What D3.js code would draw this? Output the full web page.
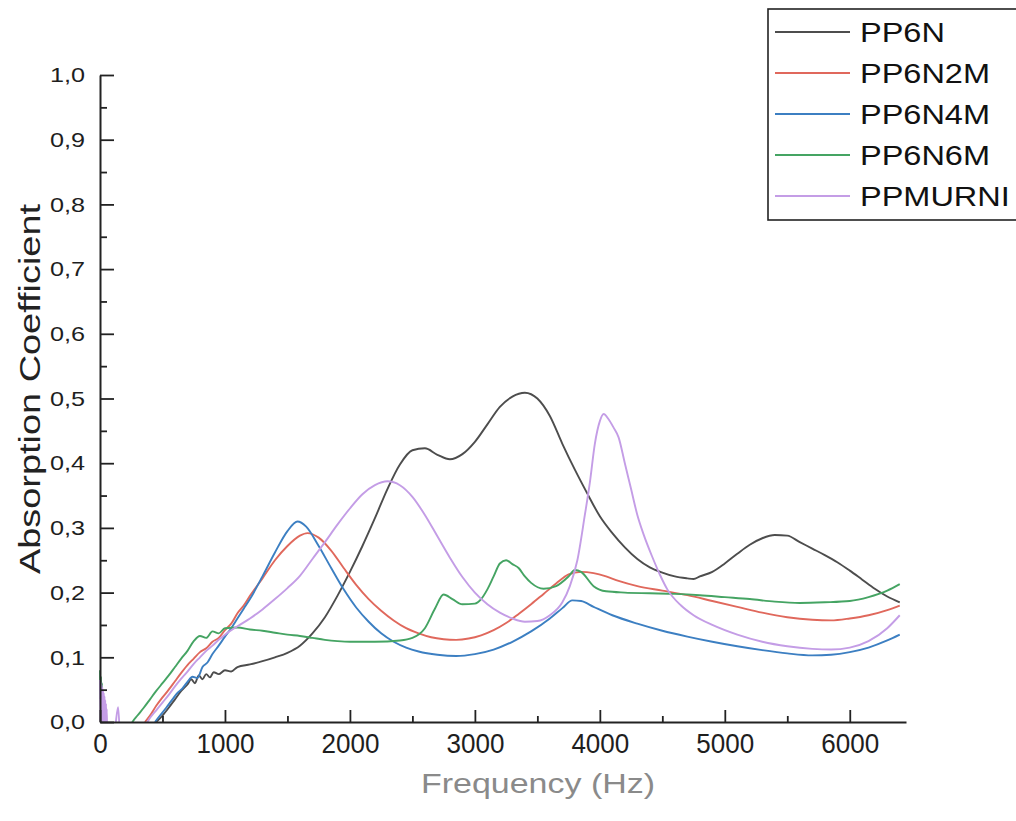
<!DOCTYPE html>
<html><head><meta charset="utf-8">
<script src="https://cdn.jsdelivr.net/npm/d3@7"></script>
<style>
html,body{margin:0;padding:0;background:#fff;}
svg{display:block;font-family:"Liberation Sans",Arial,sans-serif;}
</style></head>
<body>
<svg id="chart" width="1016" height="821"></svg>
<script>
// ---- data (frequency Hz, absorption coefficient) ----
const seriesNames = ["PP6N","PP6N2M","PP6N4M","PP6N6M","PPMURNI"];
const seriesColors = ["#4d4d4d","#e0685c","#3c7fc2","#45a463","#c49de6"];
const xTicks = [0,1000,2000,3000,4000,5000,6000];
const yTicks = [0,0.1,0.2,0.3,0.4,0.5,0.6,0.7,0.8,0.9,1.0];

const pp6n = [[450,0],[500,0.01],[550,0.022],[600,0.035],[650,0.048],[700,0.058],[730,0.066],[760,0.06],[790,0.072],[820,0.066],[850,0.074],[880,0.069],[910,0.077],[950,0.074],[1000,0.08],[1050,0.078],[1100,0.085],[1200,0.089],[1300,0.094],[1400,0.1],[1500,0.107],[1600,0.118],[1700,0.137],[1800,0.162],[1900,0.195],[2000,0.232],[2100,0.272],[2200,0.315],[2300,0.36],[2400,0.398],[2500,0.42],[2600,0.423],[2700,0.413],[2800,0.406],[2900,0.414],[3000,0.433],[3100,0.46],[3200,0.487],[3300,0.503],[3400,0.509],[3500,0.5],[3600,0.473],[3700,0.43],[3800,0.39],[3900,0.353],[4000,0.318],[4100,0.292],[4200,0.27],[4300,0.252],[4400,0.239],[4500,0.231],[4600,0.225],[4700,0.222],[4750,0.221],[4800,0.225],[4900,0.232],[5000,0.245],[5100,0.26],[5200,0.274],[5300,0.284],[5400,0.289],[5500,0.288],[5600,0.278],[5700,0.268],[5800,0.258],[5900,0.247],[6000,0.234],[6100,0.22],[6200,0.206],[6300,0.194],[6400,0.185]];

const pp6n2m = [[360,0],[400,0.01],[450,0.025],[500,0.038],[550,0.05],[600,0.063],[650,0.076],[700,0.088],[750,0.098],[800,0.108],[850,0.114],[900,0.124],[950,0.13],[1000,0.142],[1050,0.152],[1100,0.168],[1150,0.18],[1200,0.195],[1300,0.222],[1400,0.25],[1500,0.272],[1600,0.288],[1660,0.292],[1750,0.285],[1850,0.265],[1950,0.238],[2050,0.212],[2150,0.19],[2250,0.172],[2350,0.157],[2450,0.145],[2550,0.137],[2650,0.131],[2750,0.128],[2850,0.127],[2950,0.129],[3050,0.134],[3150,0.142],[3250,0.153],[3350,0.167],[3450,0.182],[3550,0.198],[3650,0.214],[3750,0.228],[3850,0.232],[3950,0.23],[4050,0.225],[4150,0.218],[4300,0.21],[4500,0.203],[4700,0.196],[4900,0.187],[5100,0.178],[5300,0.169],[5500,0.162],[5700,0.158],[5850,0.157],[6000,0.16],[6150,0.165],[6300,0.173],[6400,0.18]];

const pp6n4m = [[440,0],[480,0.01],[530,0.022],[580,0.035],[620,0.045],[660,0.052],[700,0.062],[740,0.07],[780,0.068],[820,0.085],[860,0.092],[900,0.105],[950,0.118],[1000,0.132],[1050,0.145],[1100,0.16],[1150,0.175],[1200,0.19],[1300,0.225],[1400,0.262],[1500,0.295],[1580,0.31],[1650,0.302],[1750,0.272],[1850,0.238],[1950,0.205],[2050,0.177],[2150,0.155],[2250,0.137],[2350,0.124],[2450,0.115],[2550,0.109],[2700,0.104],[2850,0.102],[3000,0.105],[3150,0.112],[3300,0.124],[3450,0.14],[3600,0.16],[3700,0.176],[3780,0.188],[3850,0.187],[3950,0.178],[4100,0.165],[4300,0.152],[4500,0.141],[4700,0.132],[4900,0.124],[5100,0.117],[5300,0.111],[5500,0.106],[5700,0.103],[5850,0.104],[6000,0.108],[6150,0.115],[6300,0.126],[6400,0.135]];

const pp6n6m = [[0,0.08],[4,0.035],[8,0.07],[12,0.02],[16,0.06],[22,0.01],[30,0.04],[45,-0.02],[100,-0.05],[200,-0.03],[260,0],[300,0.01],[350,0.022],[400,0.035],[450,0.048],[500,0.06],[550,0.072],[600,0.085],[650,0.098],[700,0.11],[750,0.125],[800,0.133],[850,0.13],[900,0.14],[950,0.137],[1000,0.145],[1100,0.146],[1200,0.143],[1300,0.141],[1400,0.138],[1500,0.135],[1600,0.133],[1700,0.13],[1800,0.127],[1900,0.125],[2000,0.124],[2200,0.124],[2400,0.126],[2500,0.13],[2600,0.145],[2680,0.175],[2750,0.197],[2820,0.19],[2900,0.182],[3000,0.183],[3050,0.19],[3100,0.205],[3150,0.225],[3200,0.245],[3250,0.25],[3300,0.244],[3350,0.238],[3400,0.225],[3450,0.215],[3550,0.206],[3650,0.21],[3750,0.225],[3800,0.235],[3850,0.232],[3950,0.21],[4050,0.202],[4200,0.2],[4400,0.199],[4600,0.198],[4800,0.196],[5000,0.193],[5200,0.19],[5400,0.186],[5600,0.184],[5800,0.185],[6000,0.187],[6150,0.193],[6300,0.203],[6400,0.213]];

const ppmurni = [[0,0.065],[3,0.0],[6,0.062],[9,0.0],[12,0.058],[15,0.0],[18,0.054],[21,0.0],[24,0.05],[27,0.0],[30,0.045],[33,0.0],[36,0.04],[39,0.0],[42,0.034],[45,0.0],[48,0.028],[51,0.0],[54,0.02],[58,-0.02],[80,-0.03],[120,-0.01],[145,0.023],[165,-0.04],[250,-0.08],[380,0],[450,0.018],[500,0.03],[550,0.042],[600,0.055],[650,0.067],[700,0.078],[750,0.09],[800,0.1],[850,0.11],[900,0.118],[950,0.127],[1000,0.135],[1100,0.148],[1200,0.16],[1300,0.174],[1400,0.19],[1500,0.207],[1600,0.226],[1700,0.252],[1800,0.278],[1900,0.305],[2000,0.33],[2100,0.352],[2200,0.366],[2300,0.372],[2400,0.366],[2500,0.348],[2600,0.32],[2700,0.287],[2800,0.254],[2900,0.224],[3000,0.2],[3100,0.182],[3200,0.169],[3300,0.16],[3400,0.155],[3500,0.156],[3600,0.165],[3700,0.185],[3760,0.21],[3820,0.25],[3880,0.32],[3920,0.37],[3960,0.43],[4000,0.465],[4030,0.476],[4070,0.468],[4110,0.455],[4150,0.44],[4200,0.4],[4250,0.36],[4300,0.32],[4350,0.29],[4420,0.255],[4480,0.228],[4540,0.205],[4650,0.18],[4750,0.165],[4900,0.15],[5100,0.135],[5300,0.124],[5500,0.117],[5700,0.113],[5850,0.112],[6000,0.115],[6150,0.125],[6300,0.145],[6400,0.165]];

const allSeries = [pp6n, pp6n2m, pp6n4m, pp6n6m, ppmurni];

// ---- layout ----
const svg = d3.select("#chart");
const x = d3.scaleLinear().domain([0, 6450]).range([100, 906]);
const y = d3.scaleLinear().domain([0, 1]).range([722, 75]);

function stretch(sel, f){
  sel.each(function(){
    const w = this.getComputedTextLength();
    d3.select(this).attr("textLength", w*f).attr("lengthAdjust","spacingAndGlyphs");
  });
}

svg.append("clipPath").attr("id","clip").append("rect")
  .attr("x", 99).attr("y", 60).attr("width", 811).attr("height", 662);

const line = d3.line().x(d=>x(d[0])).y(d=>y(d[1])).curve(d3.curveMonotoneX);
const plot = svg.append("g").attr("clip-path","url(#clip)");
allSeries.forEach((s,i)=>{
  plot.append("path").datum(s)
    .attr("fill","none").attr("stroke",seriesColors[i])
    .attr("stroke-width",1.9).attr("stroke-linejoin","round")
    .attr("d", line);
});

// axes
const fmt = v => d3.format(".1f")(v).replace(".", ",");
const yAx = svg.append("g").attr("transform","translate(100,0)")
  .call(d3.axisLeft(y).tickValues(yTicks).tickFormat(fmt).tickSizeInner(-14).tickSizeOuter(0).tickPadding(15));
const yMinor = svg.append("g").attr("transform","translate(100,0)")
  .call(d3.axisLeft(y).tickValues(d3.range(0.05,1,0.1)).tickFormat("").tickSizeInner(-7).tickSizeOuter(0));
yMinor.select(".domain").remove();
const xAx = svg.append("g").attr("transform","translate(0,722)")
  .call(d3.axisBottom(x).tickValues(xTicks).tickFormat(d3.format("d")).tickSizeInner(-12).tickSizeOuter(0).tickPadding(11));
const xMinor = svg.append("g").attr("transform","translate(0,722)")
  .call(d3.axisBottom(x).tickValues([500,1500,2500,3500,4500,5500]).tickFormat("").tickSizeInner(-6).tickSizeOuter(0));
xMinor.select(".domain").remove();

svg.selectAll(".domain").attr("stroke","#222").attr("stroke-width",2);
svg.selectAll(".tick line").attr("stroke","#222").attr("stroke-width",1.8);

yAx.selectAll("text").attr("font-size",21).attr("fill","#1e1e1e").attr("font-family","Liberation Sans, Arial, sans-serif");
stretch(yAx.selectAll("text"), 1.2);
xAx.selectAll("text").attr("font-size",28).attr("fill","#1e1e1e").attr("font-family","Liberation Sans, Arial, sans-serif");
stretch(xAx.selectAll("text"), 0.93);

// axis titles
const yTitle = svg.append("text")
  .attr("transform","translate(40,389) rotate(-90)")
  .attr("text-anchor","middle").attr("font-size",29).attr("fill","#222")
  .text("Absorption Coefficient");
yTitle.attr("textLength",370).attr("lengthAdjust","spacingAndGlyphs");

const xTitle = svg.append("text")
  .attr("x",538).attr("y",793).attr("text-anchor","middle")
  .attr("font-size",28).attr("fill","#8a8a8a")
  .text("Frequency (Hz)");
xTitle.attr("textLength",234).attr("lengthAdjust","spacingAndGlyphs");

// legend
const lg = svg.append("g");
lg.append("rect").attr("x",768).attr("y",9).attr("width",270).attr("height",211)
  .attr("fill","#fff").attr("stroke","#222").attr("stroke-width",1.6);
const rowY = d3.scalePoint().domain(seriesNames).range([32,196]);
seriesNames.forEach((n,i)=>{
  lg.append("line").attr("x1",775).attr("x2",850).attr("y1",rowY(n)).attr("y2",rowY(n))
    .attr("stroke",seriesColors[i]).attr("stroke-width",1.8);
  const t = lg.append("text").attr("x",860).attr("y",rowY(n)).attr("dy","0.36em")
    .attr("font-size",28).attr("fill","#111").text(n);
  stretch(t, 1.16);
});
</script>
</body></html>
